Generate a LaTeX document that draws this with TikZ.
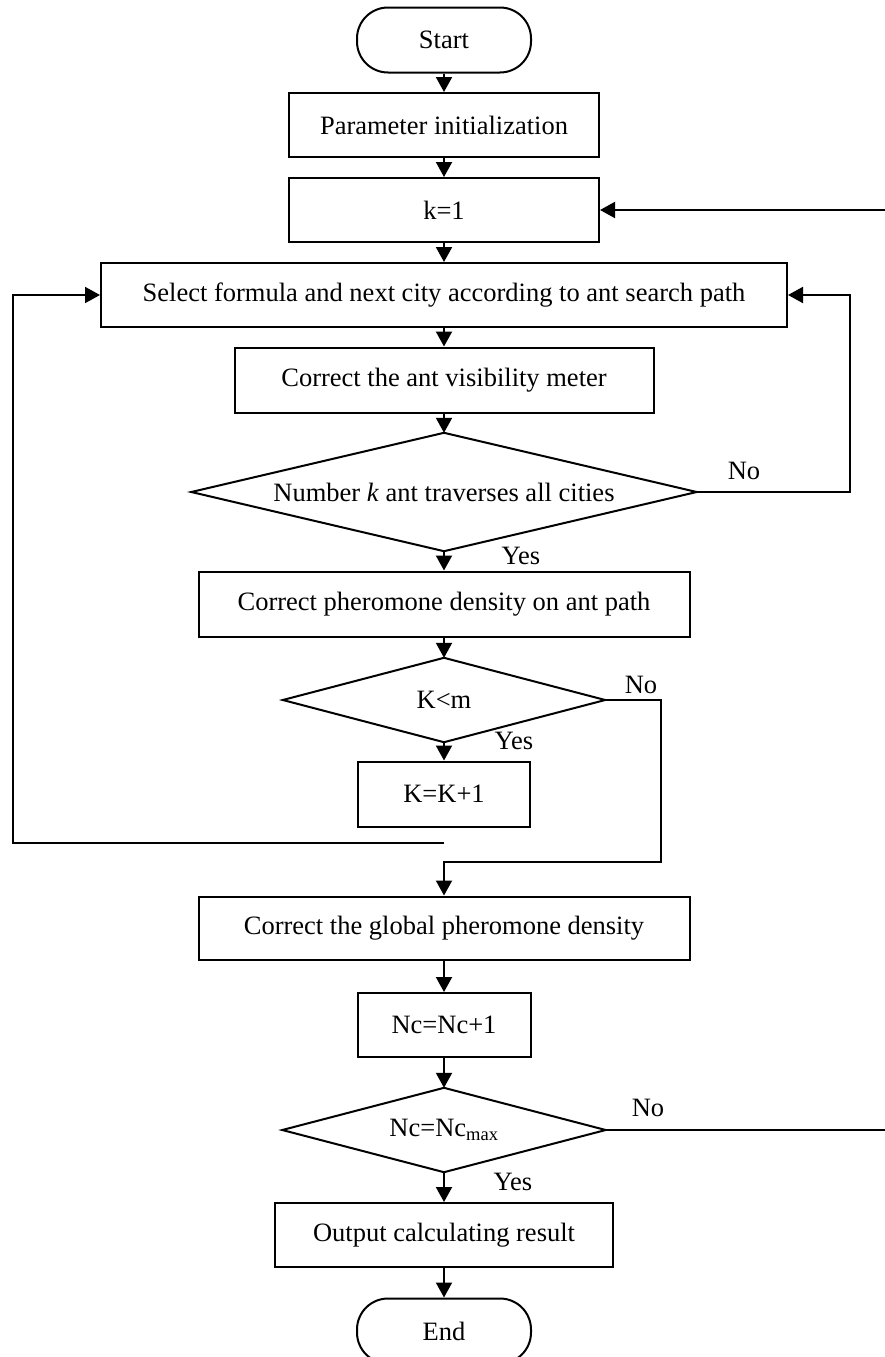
\documentclass[tikz,border=0pt]{standalone}
\usepackage{fontspec}
\setmainfont{Liberation Serif}
\usetikzlibrary{arrows.meta}
\begin{document}
\begin{tikzpicture}[x=1pt,y=-1pt,
  every node/.style={font=\fontsize{26.5}{30}\selectfont, inner sep=0pt},
  box/.style={draw, line width=2pt, minimum height=64pt},
  term/.style={draw, line width=2pt, rounded corners=31pt, minimum width=174pt, minimum height=65pt},
  dia/.style={draw=none},
  conn/.style={line width=2pt},
  arr/.style={conn, -{Triangle[length=15pt,width=16pt]}},
  lbl/.style={}
]
\useasboundingbox (0,0) rectangle (885,1357);

\node[term] (start) at (444,40) {Start};
\node[box, minimum width=310pt] (param) at (444,125) {Parameter initialization};
\node[box, minimum width=310pt] (k1) at (444,210) {k=1};
\node[box, minimum width=686pt] (sel) at (444,295) {Select formula and next city according to ant search path};
\node[box, minimum width=419pt, minimum height=65pt] (vis) at (444,380) {Correct the ant visibility meter};
\node[dia, minimum width=505pt, minimum height=118pt] (d1) at (444,492) {Number \textit{k} ant traverses all cities};
\draw[conn] (d1.north) -- (d1.east) -- (d1.south) -- (d1.west) -- cycle;
\node[box, minimum width=491pt, minimum height=65pt] (pher) at (444,604) {Correct pheromone density on ant path};
\node[dia, minimum width=322pt, minimum height=84pt] (d2) at (444,700) {K<m};
\draw[conn] (d2.north) -- (d2.east) -- (d2.south) -- (d2.west) -- cycle;
\node[box, minimum width=172pt, minimum height=65pt] (kk) at (444,794) {K=K+1};
\node[box, minimum width=491pt, minimum height=63pt] (glob) at (444,928) {Correct the global pheromone density};
\node[box, minimum width=173pt] (nc) at (444,1025) {Nc=Nc+1};
\node[dia, minimum width=323pt, minimum height=84pt] (d3) at (444,1130) {Nc=Nc\textsubscript{max}};
\draw[conn] (d3.north) -- (d3.east) -- (d3.south) -- (d3.west) -- cycle;
\node[box, minimum width=338pt] (out) at (444,1235) {Output calculating result};
\node[term] (end) at (444,1331) {End};

% straight flow
\draw[arr] (start) -- (param);
\draw[arr] (param) -- (k1);
\draw[arr] (k1) -- (sel);
\draw[arr] (sel) -- (vis);
\draw[arr] (vis) -- (d1.north);
\draw[arr] (d1.south) -- (pher);
\draw[arr] (pher) -- (d2.north);
\draw[arr] (d2.south) -- (kk);
\draw[arr] (glob) -- (nc);
\draw[arr] (nc) -- (d3.north);
\draw[arr] (d3.south) -- (out);
\draw[arr] (out) -- (end);

% loops
\coordinate (r1) at (850,492);
\draw[arr] (d1.east) -- (r1) |- (sel.east);
\coordinate (r2) at (661,700);
\coordinate (r2b) at (661,862);
\coordinate (r2c) at (444,862);
\draw[arr] (d2.east) -- (r2) -- (r2b) -- (r2c) -- (glob.north);
\coordinate (lp) at (444,843);
\coordinate (lpl) at (13,843);
\draw[arr] (lp) -- (lpl) |- (sel.west);
\coordinate (r3) at (888,1130);
\draw[arr] (d3.east) -- (r3) |- (k1.east);

% labels
\node[lbl] (no1) at (744,471) {No};
\node[lbl] (yes1) at (521,556) {Yes};
\node[lbl] (no2) at (641,685) {No};
\node[lbl] (yes2) at (514,741) {Yes};
\node[lbl] (no3) at (648,1108) {No};
\node[lbl] (yes3) at (513,1182) {Yes};
\end{tikzpicture}
\end{document}
